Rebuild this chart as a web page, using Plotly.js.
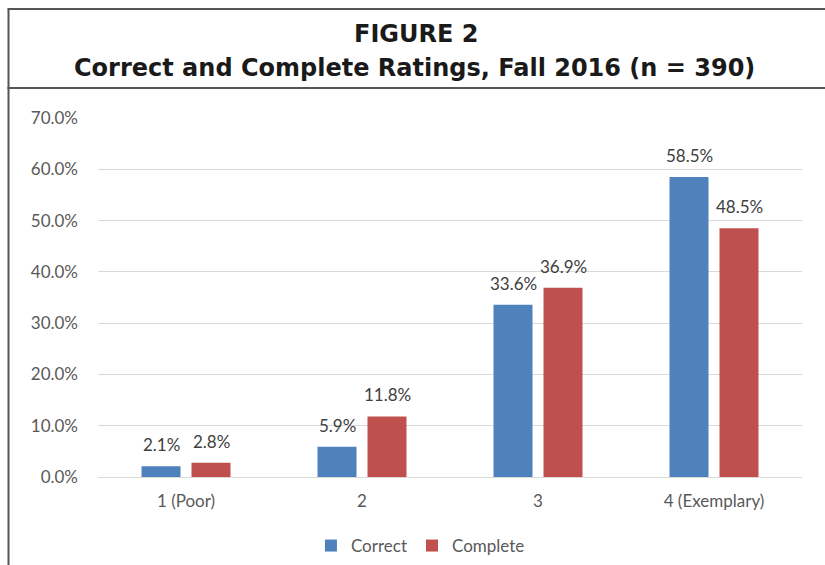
<!DOCTYPE html>
<html>
<head>
<meta charset="utf-8">
<script src="https://cdn.plot.ly/plotly-3.0.1.min.js"></script>
<style>html,body{margin:0;padding:0;background:#fff;}</style>
</head>
<body>
<div id="chart" style="width:825px;height:565px;"></div>
<script>
const categories = ["1 (Poor)", "2", "3", "4 (Exemplary)"];
const correctValues = [0.021, 0.059, 0.336, 0.585];
const completeValues = [0.028, 0.118, 0.369, 0.485];
const yTickVals = [0, 0.1, 0.2, 0.3, 0.4, 0.5, 0.6, 0.7];
const yTickText = ["0.0%", "10.0%", "20.0%", "30.0%", "40.0%", "50.0%", "60.0%", "70.0%"];
const titleLine1 = "FIGURE 2";
const titleLine2 = "Correct and Complete Ratings, Fall 2016 (n = 390)";

const W = 825, H = 565;
const ml = 98, mr = 23, mt = 118, mb = 88;
const pw = W - ml - mr, ph = H - mt - mb;
const px = x => (x - ml) / pw;
const py = y => (H - mb - y) / ph;

const fmt = v => (v * 100).toFixed(1) + "%";
const FONT = "Lato, 'Open Sans', sans-serif";
const labelFont = {family: FONT, size: 17, color: "#404040"};

const traces = [
  {type: "bar", name: "Correct", x: categories, y: correctValues,
   marker: {color: "#4f81bd"}, hoverinfo: "none"},
  {type: "bar", name: "Complete", x: categories, y: completeValues,
   marker: {color: "#c0504d"}, hoverinfo: "none"}
];

// data labels placed through the axes (category index), shifted to each bar's group slot
const barShift = 25;
const labelAnns = [];
categories.forEach((c, i) => {
  labelAnns.push({x: i, y: correctValues[i], xref: "x", yref: "y", text: fmt(correctValues[i]),
    showarrow: false, xanchor: "center", yanchor: "bottom", xshift: -barShift, yshift: 9,
    font: labelFont});
  labelAnns.push({x: i, y: completeValues[i], xref: "x", yref: "y", text: fmt(completeValues[i]),
    showarrow: false, xanchor: "center", yanchor: "bottom", xshift: barShift, yshift: 9,
    font: labelFont});
});

const layout = {
  width: W, height: H,
  margin: {l: ml, r: mr, t: mt, b: mb, pad: 0, autoexpand: false},
  paper_bgcolor: "#fff", plot_bgcolor: "#fff",
  barmode: "group", bargap: 0.432, bargroupgap: 0.22,
  showlegend: true,
  legend: {orientation: "h", x: 0.458, xanchor: "center", y: py(546), yanchor: "middle",
           font: {family: FONT, size: 17, color: "#595959"},
           itemwidth: 30, tracegroupgap: 0},
  xaxis: {type: "category", showgrid: false, zeroline: false, showline: false, ticks: "",
          ticklabelstandoff: 12,
          tickfont: {family: FONT, size: 17, color: "#595959"}},
  yaxis: {range: [0, 0.7], tickvals: yTickVals, ticktext: yTickText,
          showgrid: true, gridcolor: "#d9d9d9", gridwidth: 1, zeroline: true, zerolinecolor: "#d9d9d9",
          showline: false, ticks: "", ticklabelstandoff: 19,
          tickfont: {family: FONT, size: 17, color: "#595959"}},
  annotations: [
    {text: "<b>" + titleLine1 + "</b>", xref: "paper", yref: "paper", x: px(416), y: py(34),
     xanchor: "center", yanchor: "middle", showarrow: false,
     font: {family: "'DejaVu Sans', sans-serif", size: 24, color: "#1a1a1a"}},
    {text: "<b>" + titleLine2 + "</b>", xref: "paper", yref: "paper", x: px(414), y: py(68),
     xanchor: "center", yanchor: "middle", showarrow: false,
     font: {family: "'DejaVu Sans', sans-serif", size: 24, color: "#1a1a1a"}}
  ].concat(labelAnns),
  shapes: [
    {type: "line", xref: "paper", yref: "paper", x0: px(8.5), x1: px(8.5), y0: py(9), y1: py(H + 5),
     line: {color: "#555555", width: 2}},
    {type: "line", xref: "paper", yref: "paper", x0: px(7.5), x1: px(W + 5), y0: py(9), y1: py(9),
     line: {color: "#555555", width: 2}},
    {type: "line", xref: "paper", yref: "paper", x0: px(7.5), x1: px(W + 5), y0: py(88), y1: py(88),
     line: {color: "#555555", width: 2}}
  ]
};

Plotly.newPlot("chart", traces, layout, {displayModeBar: false, staticPlot: true});
</script>
</body>
</html>
